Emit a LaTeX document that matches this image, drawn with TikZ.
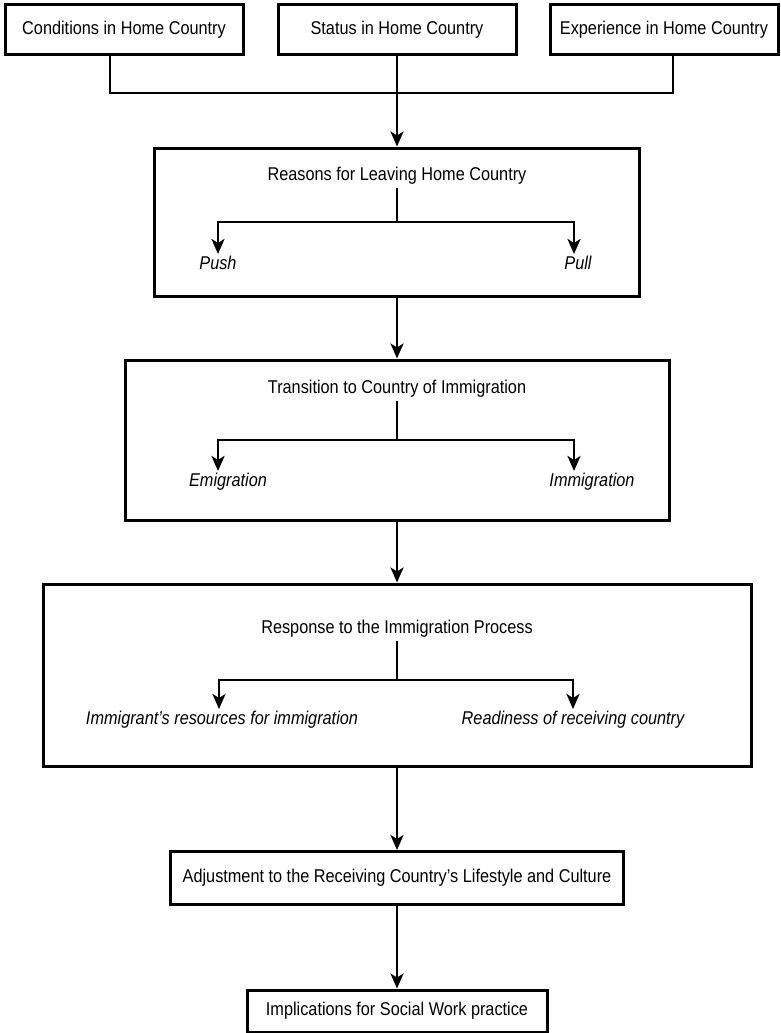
\documentclass[tikz,border=0pt]{standalone}
\usepackage{fontspec}
\setmainfont{Liberation Sans}[FakeStretch=0.88]
\usetikzlibrary{positioning, arrows.meta}
\tikzset{stage box/.style={draw=black, rectangle, line width=3pt, inner sep=0pt}}
\tikzset{top box/.style={stage box, minimum height=50pt}}
\tikzset{branch label/.style={font=\fontsize{18.5}{22}\selectfont\itshape, inner sep=2pt}}
\tikzset{link/.style={line width=2.7pt}}
\tikzset{flow/.style={line width=2.7pt, -{Stealth[length=15pt,width=13pt,inset=4pt]}}}

\begin{document}
\begin{tikzpicture}[x=1pt, y=-1pt, font=\fontsize{18.5}{22}\selectfont]
\useasboundingbox (0,0) rectangle (780,1033);
% top row
\node[top box, minimum width=238pt] (condhome) at (124,30) {Conditions in Home Country};
\node[top box, minimum width=238pt] (stathome) at (397,30) {Status in Home Country};
\node[top box, minimum width=228pt] (exphome) at (664,30) {Experience in Home Country};
\coordinate (joinL) at (110,93);
\coordinate (joinR) at (673,93);
\draw[link] (condhome.south -| joinL) -- (joinL) -- (joinR) -- (exphome.south -| joinR);

% reasons
\node[stage box, minimum width=485pt, minimum height=148pt] (reasons) at (397,222) {};
\node (reasonsT) at (397,176) {Reasons for Leaving Home Country};
\draw[flow] (stathome) -- (reasons);
\coordinate (reasonsJ) at (397,222);
\coordinate (pushA) at (218,254);
\coordinate (pullA) at (574,254);
\draw[link] (reasonsT) -- (reasonsJ);
\draw[flow] (reasonsJ) -| (pushA);
\draw[flow] (reasonsJ) -| (pullA);
\node[branch label, below=0pt of pushA] (push) {Push};
\node[branch label, below=0pt of pullA, xshift=4pt] (pull) {Pull};

% transition
\node[stage box, minimum width=544pt, minimum height=160pt] (transit) at (397,440) {};
\node (transitT) at (397,389) {Transition to Country of Immigration};
\draw[flow] (reasons) -- (transit);
\coordinate (transitJ) at (397,440);
\coordinate (emigA) at (218,471);
\coordinate (immigA) at (574,471);
\draw[link] (transitT) -- (transitJ);
\draw[flow] (transitJ) -| (emigA);
\draw[flow] (transitJ) -| (immigA);
\node[branch label, below=0pt of emigA, xshift=10pt] (emig) {Emigration};
\node[branch label, below=0pt of immigA, xshift=18pt] (immig) {Immigration};

% response
\node[stage box, minimum width=708pt, minimum height=182pt] (response) at (397,675) {};
\node (responseT) at (397,629) {Response to the Immigration Process};
\draw[flow] (transit) -- (response);
\coordinate (responseJ) at (397,680);
\coordinate (resA) at (219,709);
\coordinate (readyA) at (573,709);
\draw[link] (responseT) -- (responseJ);
\draw[flow] (responseJ) -| (resA);
\draw[flow] (responseJ) -| (readyA);
\node[branch label, below=0pt of resA, xshift=3pt] (res) {Immigrant's resources for immigration};
\node[branch label, below=0pt of readyA] (ready) {Readiness of receiving country};

% bottom
\node[stage box, minimum width=453pt, minimum height=53pt] (adjust) at (397,878) {Adjustment to the Receiving Country's Lifestyle and Culture};
\node[stage box, minimum width=300pt, minimum height=42pt] (implic) at (397,1011) {Implications for Social Work practice};
\draw[flow] (response) -- (adjust);
\draw[flow] (adjust) -- (implic);
\end{tikzpicture}
\end{document}
